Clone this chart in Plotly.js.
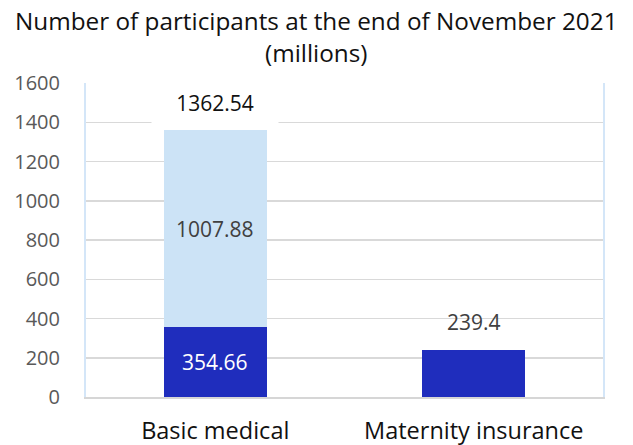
<!DOCTYPE html>
<html>
<head>
<meta charset="utf-8">
<script src="https://cdn.plot.ly/plotly-3.0.1.min.js"></script>
<style>html,body{margin:0;padding:0;background:#fff;}#chart{width:633px;height:445px;}</style>
</head>
<body>
<div id="chart"></div>
<script>
const categories = ["Basic medical", "Maternity insurance"];
const employeeValues = [354.66, 239.4];
const residentValues = [1007.88, 0];
const totalValues = [1362.54, 239.4];
const yTicks = [0, 200, 400, 600, 800, 1000, 1200, 1400, 1600];
const titleText = "Number of participants at the end of November 2021<br>(millions)";

const darkBlue = "#1f2dbd";
const lightBlue = "#cce3f6";
const font = "Open Sans, Noto Sans, sans-serif";

const traces = [
  {type: "bar", x: categories, y: employeeValues, marker: {color: darkBlue}, hoverinfo: "skip"},
  {type: "bar", x: categories, y: residentValues, marker: {color: lightBlue}, hoverinfo: "skip"}
];

const annotations = [];
annotations.push({x: categories[0], y: employeeValues[0] / 2, text: String(employeeValues[0]), showarrow: false,
  font: {family: font, size: 21, color: "#ffffff"}, xref: "x", yref: "y"});
annotations.push({x: categories[0], y: employeeValues[0] + residentValues[0] / 2, text: String(residentValues[0]), showarrow: false,
  font: {family: font, size: 21, color: "#404040"}, xref: "x", yref: "y"});
annotations.push({x: categories[0], y: totalValues[0], yshift: 4, yanchor: "bottom", text: String(totalValues[0]), showarrow: false,
  font: {family: font, size: 21, color: "#111111"}, bgcolor: "#ffffff", borderpad: 8, width: 110, xref: "x", yref: "y"});
annotations.push({x: categories[1], y: totalValues[1], yshift: 12, yanchor: "bottom", text: String(totalValues[1]), showarrow: false,
  font: {family: font, size: 21, color: "#404040"}, xref: "x", yref: "y"});
// chart title
annotations.push({xref: "paper", yref: "paper", x: 0.446, y: 1.258, xanchor: "center", yanchor: "top", text: titleText,
  showarrow: false, align: "center", font: {family: font, size: 24.3, color: "#111111"}});

const layout = {
  width: 633, height: 445,
  margin: {l: 86, r: 30, t: 83, b: 48},
  paper_bgcolor: "#ffffff", plot_bgcolor: "#ffffff",
  barmode: "stack", bargap: 0.6,
  showlegend: false,
  font: {family: font, size: 20, color: "#595959"},
  xaxis: {type: "category", showgrid: false, zeroline: false, showline: true, linecolor: "#d6d6d6", linewidth: 2,
    tickfont: {family: font, size: 23.5, color: "#111111"}, ticks: "", ticklabelstandoff: 12, fixedrange: true},
  yaxis: {range: [0, 1600], tickvals: yTicks, ticktext: yTicks.map(String), showgrid: true, gridcolor: "#d9d9d9", gridwidth: 1.5,
    zeroline: false, showline: true, mirror: true, linecolor: "#d4e6f8", linewidth: 2,
    tickfont: {family: font, size: 20, color: "#595959"}, ticks: "", ticklabelstandoff: 20, fixedrange: true},
  annotations: annotations
};

Plotly.newPlot("chart", traces, layout, {staticPlot: true, displayModeBar: false});
</script>
</body>
</html>
